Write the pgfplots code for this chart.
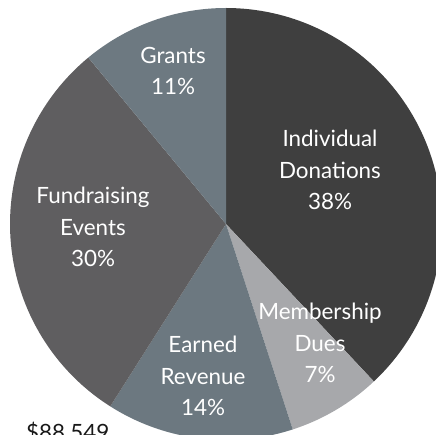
\documentclass[border=0pt]{standalone}
\usepackage{pgfplots}
\pgfplotsset{compat=1.18}
\usepackage{fontspec}
\setmainfont{Lato}
\definecolor{cIndiv}{HTML}{3F3F3F}
\definecolor{cMember}{HTML}{A7A8AB}
\definecolor{cEarned}{HTML}{6C7880}
\definecolor{cEvents}{HTML}{5F5E60}
\definecolor{cGrants}{HTML}{6D7981}
\tikzset{lbl/.style={font=\fontsize{22.5}{31.5}\selectfont, align=center, text=white, inner sep=0pt}}

\begin{document}
\begin{tikzpicture}
\begin{axis}[
    width=436bp, height=435bp, scale only axis,
    xmin=0, xmax=436, ymin=0, ymax=435,
    hide axis, clip=false,
]
%% shares 38, 7, 14, 30, 11 % -> clockwise from 12 o'clock
%% centre (226,211), radius 216
\addplot[fill=cIndiv, draw=none, domain=90:-46.8, samples=90]
    ({226+216*cos(x)},{211+216*sin(x)}) -- (226,211) -- cycle;
\addplot[fill=cMember, draw=none, domain=-46.8:-72, samples=30]
    ({226+216*cos(x)},{211+216*sin(x)}) -- (226,211) -- cycle;
\addplot[fill=cEarned, draw=none, domain=-72:-122.4, samples=40]
    ({226+216*cos(x)},{211+216*sin(x)}) -- (226,211) -- cycle;
\addplot[fill=cEvents, draw=none, domain=-122.4:-230.4, samples=80]
    ({226+216*cos(x)},{211+216*sin(x)}) -- (226,211) -- cycle;
\addplot[fill=cGrants, draw=none, domain=-230.4:-270, samples=40]
    ({226+216*cos(x)},{211+216*sin(x)}) -- (226,211) -- cycle;

\node[lbl] at (330,265) {Individual\\Donations\\38\%};
\node[lbl] at (320,92) {Membership\\Dues\\7\%};
\node[lbl] at (203,59) {Earned\\Revenue\\14\%};
\node[lbl] at (93,208) {Fundraising\\Events\\30\%};
\node[lbl] at (173,364) {Grants\\11\%};
\node[lbl, text=black!90, anchor=north west] at (26,13) {\$88,549};
\end{axis}
\pgfresetboundingbox
\useasboundingbox (current axis.south west) rectangle (current axis.north east);
\end{tikzpicture}
\end{document}
